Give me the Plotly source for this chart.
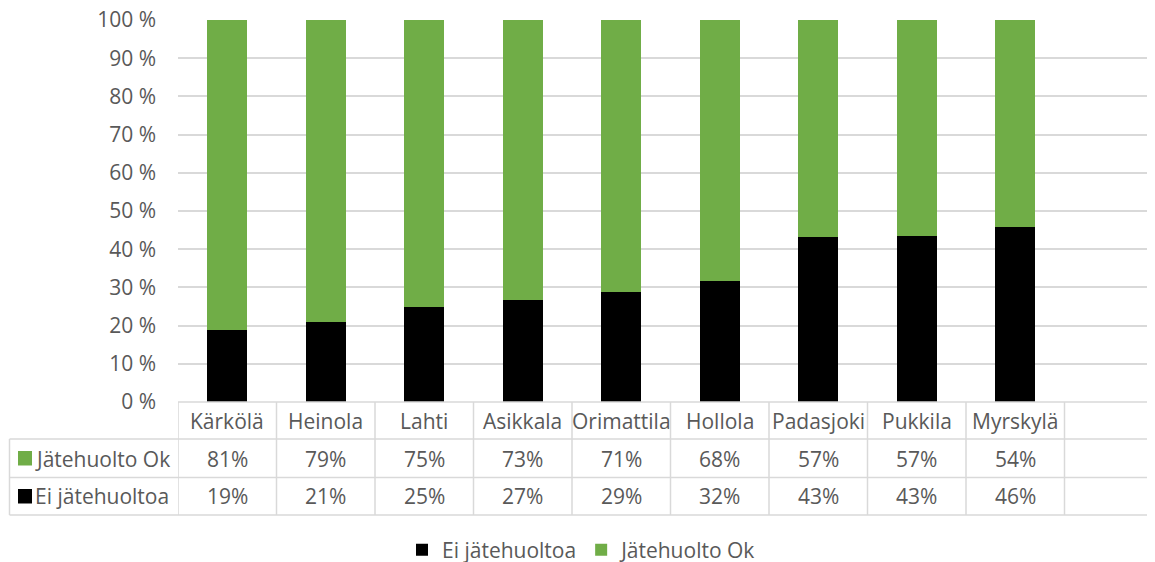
import plotly.graph_objects as go

categories = ["Kärkölä", "Heinola", "Lahti", "Asikkala", "Orimattila",
              "Hollola", "Padasjoki", "Pukkila", "Myrskylä"]
ei_jatehuoltoa = [18.8, 20.9, 24.9, 26.6, 28.8, 31.8, 43.2, 43.4, 45.8]
jatehuolto_ok = [81.2, 79.1, 75.1, 73.4, 71.2, 68.2, 56.8, 56.6, 54.2]
ok_labels = ["81%", "79%", "75%", "73%", "71%", "68%", "57%", "57%", "54%"]
ei_labels = ["19%", "21%", "25%", "27%", "29%", "32%", "43%", "43%", "46%"]
y_ticks = [0, 10, 20, 30, 40, 50, 60, 70, 80, 90, 100]
y_tick_labels = ["0 %", "10 %", "20 %", "30 %", "40 %", "50 %",
                 "60 %", "70 %", "80 %", "90 %", "100 %"]

GREEN = "#70ad47"
BLACK = "#000000"
GRID = "#d9d9d9"
TXT = "#595959"
FONT = "Open Sans"
FS = 21

# page body has an 8px margin: figure is drawn offset by 8px
OFF = 8
W, H = 1155, 562
L = 178 - OFF
T = 20 - OFF
B = H - (402 - OFF)
PW = W - L
PH = H - T - B


def px(x):
    """reference-image x pixel -> paper x"""
    return (x - OFF - L) / PW


def py(y):
    """reference-image y pixel -> paper y"""
    return (H - B - (y - OFF)) / PH


fig = go.Figure()
fig.add_trace(go.Bar(x=categories, y=ei_jatehuoltoa, name="Ei jätehuoltoa",
                     marker=dict(color=BLACK, line=dict(width=0))))
fig.add_trace(go.Bar(x=categories, y=jatehuolto_ok, name="Jätehuolto Ok",
                     marker=dict(color=GREEN, line=dict(width=0))))

shapes = []
annotations = []
tf = dict(size=FS, color=TXT, family=FONT)
LW = 1.5
# table horizontal lines
row_y = [402, 439, 477.5, 515]
shapes.append(dict(type="line", xref="paper", yref="paper", x0=0, x1=1,
                   y0=py(402), y1=py(402), line=dict(color=GRID, width=LW)))
for yy in row_y[1:]:
    shapes.append(dict(type="line", xref="paper", yref="paper", x0=px(9.5), x1=1,
                       y0=py(yy), y1=py(yy), line=dict(color=GRID, width=LW)))
# table vertical lines
for i in range(len(categories) + 1):
    shapes.append(dict(type="line", xref="x", yref="paper", x0=i - 0.5, x1=i - 0.5,
                       y0=py(402), y1=py(515), line=dict(color=GRID, width=LW)))
shapes.append(dict(type="line", xref="paper", yref="paper", x0=px(9.5), x1=px(9.5),
                   y0=py(439), y1=py(515), line=dict(color=GRID, width=LW)))

# header + values
for c, o, e in zip(categories, ok_labels, ei_labels):
    for txt, yc in [(c, 420.5), (o, 458.5), (e, 496.5)]:
        annotations.append(dict(x=c, xref="x", y=py(yc), yref="paper", text=txt,
                                xanchor="center", yanchor="middle",
                                showarrow=False, font=tf))

# row labels with keys
for name, color, yc in [("Jätehuolto Ok", GREEN, 458.5), ("Ei jätehuoltoa", BLACK, 496.5)]:
    shapes.append(dict(type="rect", xref="paper", yref="paper",
                       x0=px(18), x1=px(32), y0=py(yc + 7), y1=py(yc - 7.5),
                       fillcolor=color, line=dict(width=0)))
    annotations.append(dict(x=px(33), xref="paper", y=py(yc), yref="paper", text=name,
                            xanchor="left", yanchor="middle", showarrow=False,
                            font=tf))

fig.update_layout(
    width=W, height=H,
    margin=dict(l=L, r=0, t=T, b=B, pad=0, autoexpand=False),
    barmode="stack", bargap=0.595,
    plot_bgcolor="white", paper_bgcolor="white",
    font=tf,
    shapes=shapes, annotations=annotations,
    showlegend=True,
    legend=dict(orientation="h", x=px(582), xanchor="center", y=py(550),
                yanchor="middle", traceorder="normal",
                font=tf, itemwidth=30),
    xaxis=dict(type="category", range=[-0.5, 9.5], showticklabels=False,
               showgrid=False, zeroline=False, showline=False, ticks=""),
    yaxis=dict(range=[0, 100], tickvals=y_ticks, ticktext=y_tick_labels,
               showgrid=True, gridcolor=GRID, gridwidth=LW, zeroline=False,
               showline=False, ticks="", ticklabelstandoff=21,
               ticklabeloverflow="allow", tickfont=tf),
)

fig.write_html("out.html")
